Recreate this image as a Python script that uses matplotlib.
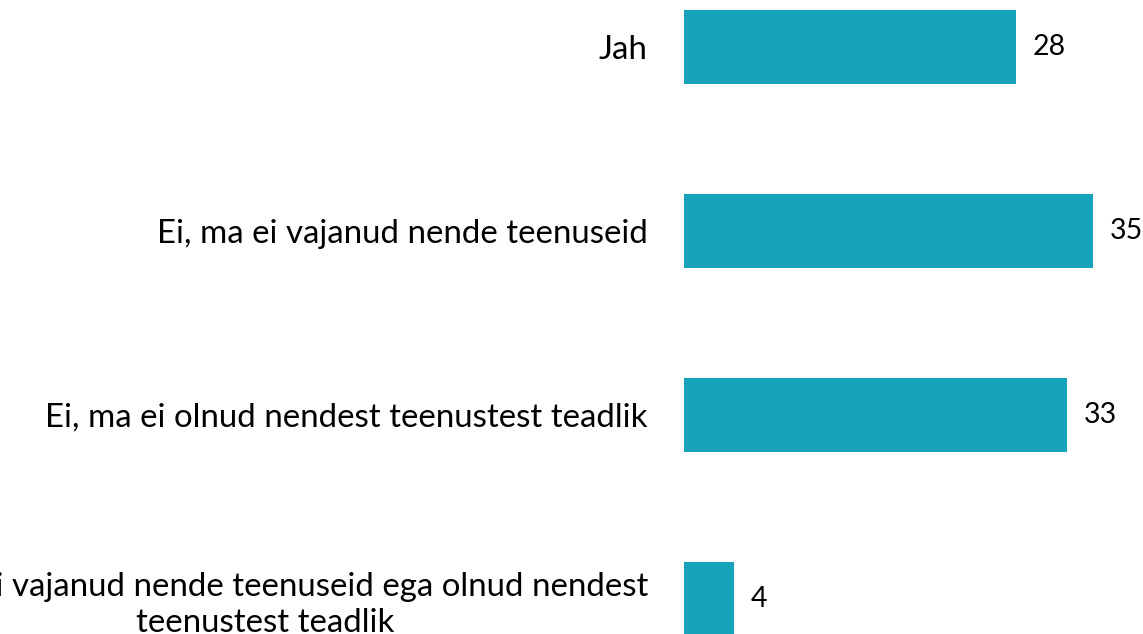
import matplotlib
matplotlib.use("Agg")
import matplotlib.pyplot as plt

categories = [
    "Jah",
    "Ei, ma ei vajanud nende teenuseid",
    "Ei, ma ei olnud nendest teenustest teadlik",
    "Ei, ma ei vajanud nende teenuseid ega olnud nendest\nteenustest teadlik",
]
values = [28.4, 35.0, 32.8, 4.3]
labels = ["28", "35", "33", "4"]

W, H = 1143, 634
fig = plt.figure(figsize=(W / 100, H / 100), dpi=100)
x0 = 684
ax = fig.add_axes([x0 / W, 0, 1 - x0 / W, 1])
ypos = list(range(len(categories)))
ax.barh(ypos, values, height=0.4, color="#17a3bb")
ax.set_xlim(0, (W - x0) / 11.69)
ax.set_ylim(3 + 35 / 184, -47 / 184)
ax.set_yticks(ypos)
ax.set_yticklabels(categories, fontsize=23.8, family="Lato", color="#000000",
                   multialignment="center", linespacing=1.25)
ax.tick_params(axis="y", length=0, pad=26)
ax.set_xticks([])
for s in ax.spines.values():
    s.set_visible(False)
for y, v, l in zip(ypos, values, labels):
    ax.annotate(l, (v, y), xytext=(12, 0), textcoords="offset points",
                va="center", ha="left", fontsize=20.5, family="Lato", color="#000000")
fig.savefig("out.png", dpi=100)
